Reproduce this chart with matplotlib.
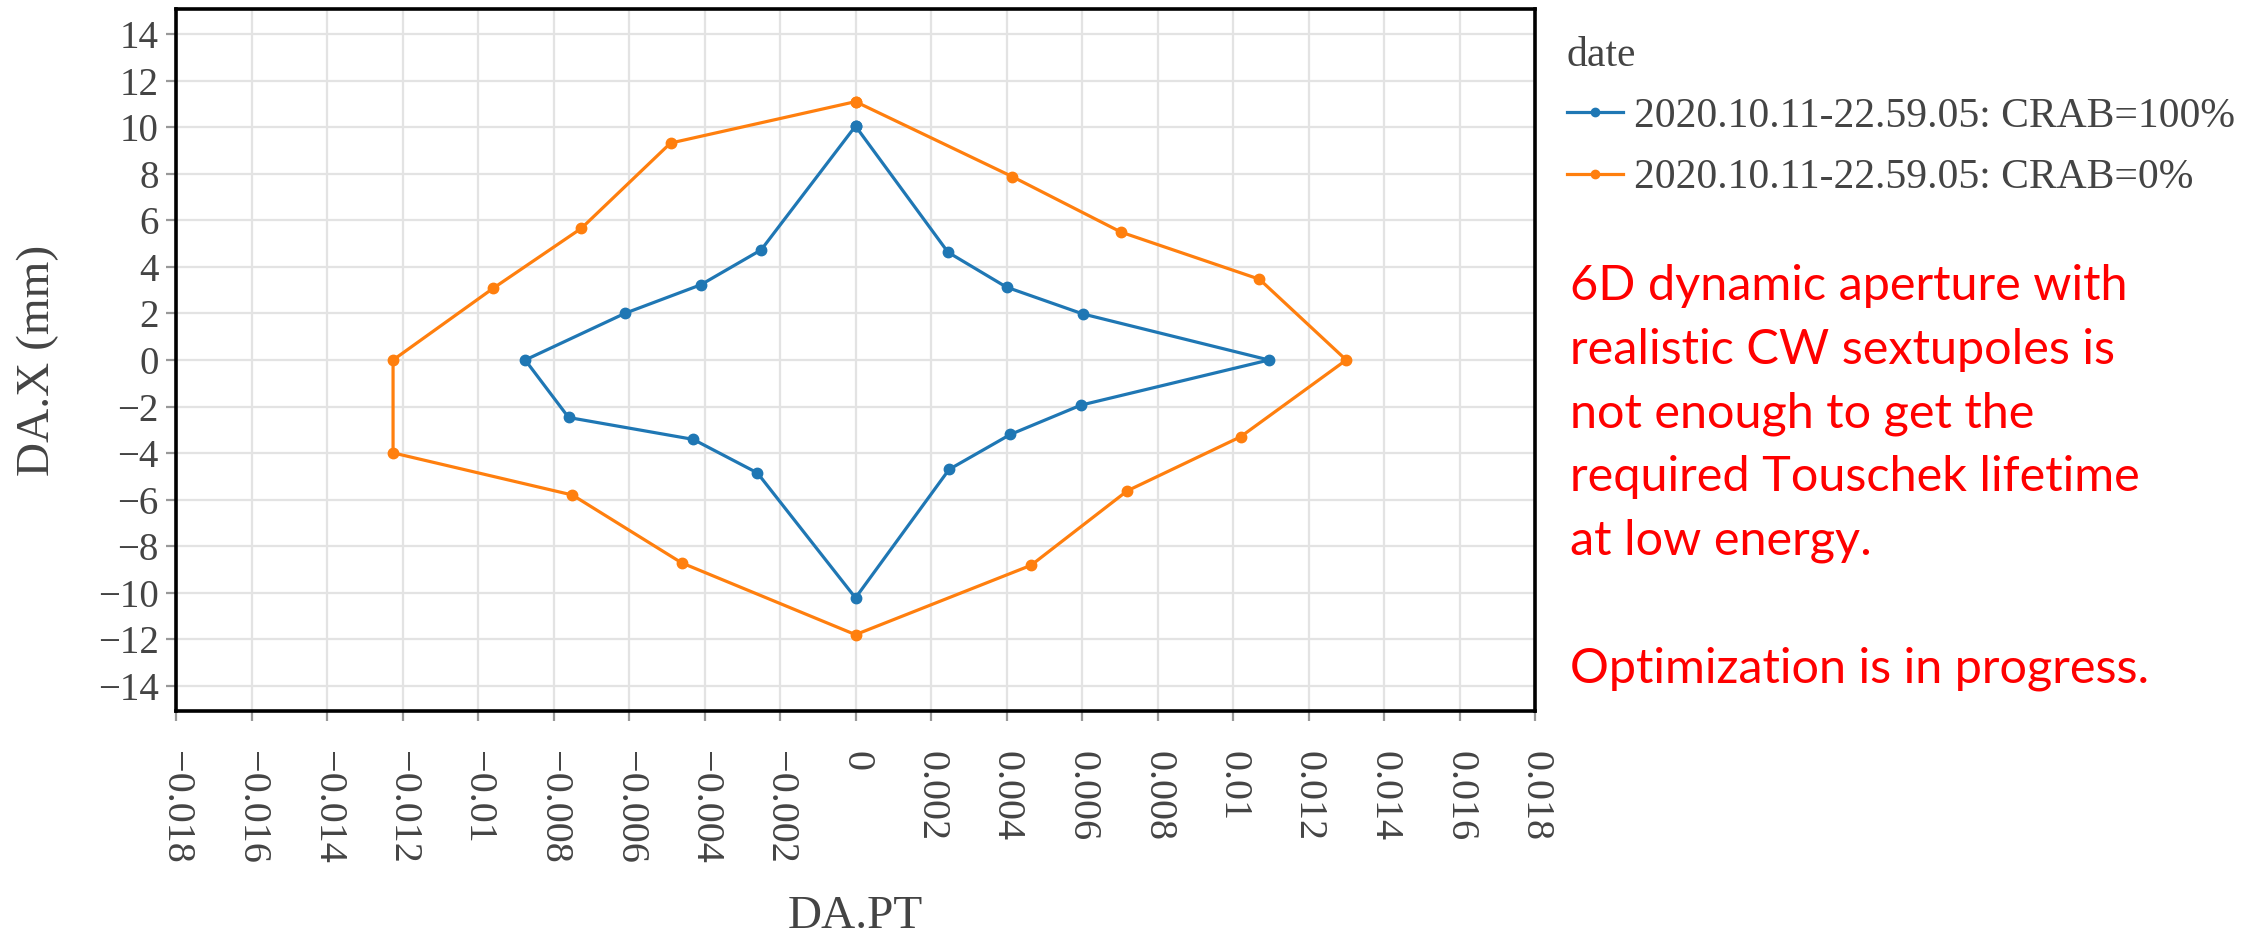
import matplotlib
matplotlib.use("Agg")
import matplotlib.pyplot as plt
from matplotlib.ticker import FixedLocator, FixedFormatter

# ---- data ----
crab100_pt = [0, -0.0025, -0.0041, -0.0061, -0.00875, -0.0076, -0.0043, -0.0026, 0,
              0.00248, 0.0041, 0.00597, 0.01095, 0.00602, 0.0040, 0.00245, 0]
crab100_x = [10.05, 4.73, 3.23, 2.01, 0, -2.47, -3.41, -4.85, -10.22,
             -4.70, -3.20, -1.94, 0, 1.98, 3.13, 4.63, 10.05]

crab0_pt = [0, -0.0049, -0.00726, -0.0096, -0.01225, -0.01225, -0.0075, -0.0046, 0,
            0.00465, 0.0072, 0.0102, 0.0130, 0.0107, 0.00704, 0.00415, 0]
crab0_x = [11.1, 9.32, 5.66, 3.08, 0, -3.99, -5.8, -8.72, -11.8,
           -8.82, -5.62, -3.3, 0, 3.47, 5.49, 7.88, 11.1]

series_labels = ["2020.10.11-22.59.05: CRAB=100%", "2020.10.11-22.59.05: CRAB=0%"]
legend_title = "date"

x_ticks = [-0.018, -0.016, -0.014, -0.012, -0.01, -0.008, -0.006, -0.004, -0.002,
           0, 0.002, 0.004, 0.006, 0.008, 0.01, 0.012, 0.014, 0.016, 0.018]
x_ticklabels = ["\u22120.018", "\u22120.016", "\u22120.014", "\u22120.012", "\u22120.01",
                "\u22120.008", "\u22120.006", "\u22120.004", "\u22120.002", "0",
                "0.002", "0.004", "0.006", "0.008", "0.01", "0.012", "0.014", "0.016", "0.018"]
y_ticks = [-14, -12, -10, -8, -6, -4, -2, 0, 2, 4, 6, 8, 10, 12, 14]
y_ticklabels = ["\u221214", "\u221212", "\u221210", "\u22128", "\u22126", "\u22124", "\u22122",
                "0", "2", "4", "6", "8", "10", "12", "14"]

note_lines = ["6D dynamic aperture with",
              "realistic CW sextupoles is",
              "not enough to get the",
              "required Touschek lifetime",
              "at low energy.",
              "",
              "Optimization is in progress."]

# ---- figure ----
W, H = 2262, 936
fig = plt.figure(figsize=(W / 100, H / 100), dpi=100)
ax = fig.add_axes([176 / W, 1 - 711 / H, (1535 - 176) / W, (711 - 9) / H])

serif = ["Liberation Serif", "DejaVu Serif"]
grey_txt = "#444444"

ax.plot(crab100_pt, crab100_x, color="#1f77b4", lw=2.3, marker="o", ms=7.5,
        label=series_labels[0], zorder=3)
ax.plot(crab0_pt, crab0_x, color="#ff7f0e", lw=2.3, marker="o", ms=7.5,
        label=series_labels[1], zorder=3)

ax.set_xlim(-0.018, 0.018)
ax.set_ylim(-15.08, 15.08)
ax.xaxis.set_major_locator(FixedLocator(x_ticks))
ax.xaxis.set_major_formatter(FixedFormatter(x_ticklabels))
ax.yaxis.set_major_locator(FixedLocator(y_ticks))
ax.yaxis.set_major_formatter(FixedFormatter(y_ticklabels))

ax.grid(True, color="#e3e3e3", lw=1.6, zorder=0)
ax.set_axisbelow(True)
for s in ax.spines.values():
    s.set_color("black")
    s.set_linewidth(2.6)

ax.tick_params(axis="both", direction="out", length=7.5, width=1.6, color="#999999",
               labelcolor=grey_txt, labelsize=28)
ax.tick_params(axis="x", pad=21, labelsize=29)
ax.tick_params(axis="y", pad=5)
for lab in ax.get_xticklabels():
    lab.set_rotation(-90)
    lab.set_va("top")
    lab.set_ha("center")
    lab.set_family(serif)
for lab in ax.get_yticklabels():
    lab.set_family(serif)

ax.set_xlabel("DA.PT", fontsize=34, family=serif, color=grey_txt)
ax.set_ylabel("DA.X (mm)", fontsize=34, family=serif, color=grey_txt)
ax.xaxis.set_label_coords(0.5, (711 - 895) / 702)
ax.yaxis.set_label_coords((59 - 176) / 1359, 0.5)

leg = fig.legend(loc="upper left", bbox_to_anchor=(1567 / W, 1 - 36 / H),
                 frameon=False, prop={"family": serif, "size": 30},
                 title=legend_title, title_fontproperties={"family": serif, "size": 30},
                 handlelength=1.35, handletextpad=0.25, labelspacing=0.55,
                 borderpad=0, borderaxespad=0, alignment="left")
for t in leg.get_texts():
    t.set_color(grey_txt)
leg.get_title().set_color(grey_txt)
for h in leg.legend_handles:
    h.set_markersize(6)

pitch = 63.7
for i, line in enumerate(note_lines):
    if line:
        fig.text(1570 / W, 1 - (300 + i * pitch) / H, line, color="#ff0000",
                 fontsize=35, family=["Lato", "DejaVu Sans"], va="baseline", ha="left")

fig.savefig("out.png", dpi=100, facecolor="white")
